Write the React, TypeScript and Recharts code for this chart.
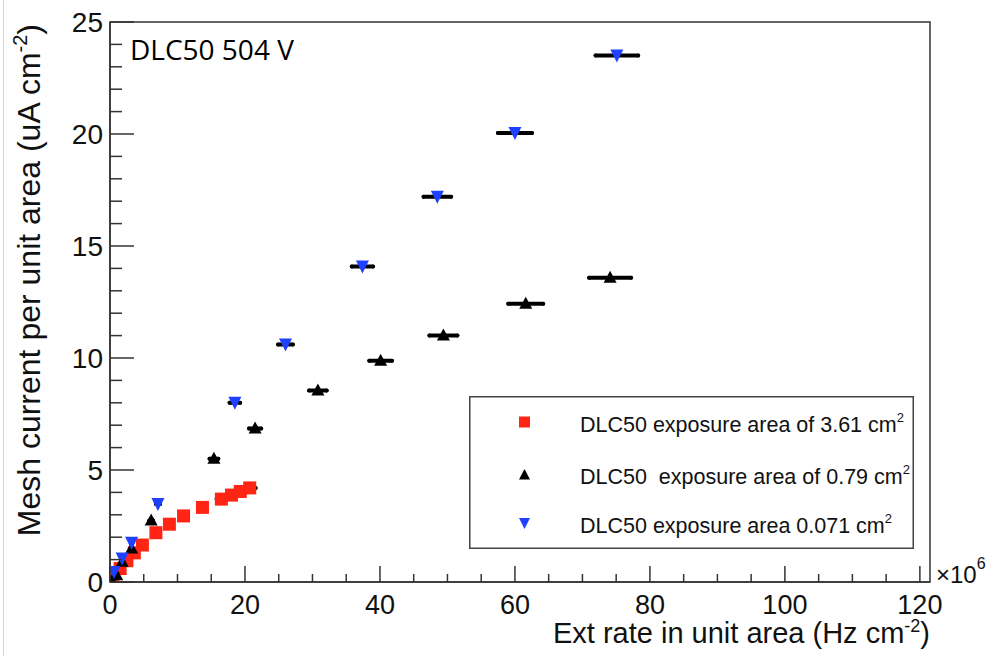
import React from "react";
import {
  ScatterChart,
  Scatter,
  XAxis,
  YAxis,
  ErrorBar,
  ReferenceArea,
  Legend,
} from "recharts";

const AXIS = "#333333";
const RED = "#ff2414";
const BLACK = "#000000";
const BLUE = "#2040ff";
const FONT = "'Liberation Sans', Arial, Helvetica, sans-serif";

// exposure area 3.61 cm2 (rate in 1e6 Hz/cm2, current in uA/cm2)
const redRate = [0.4, 1.5, 2.5, 3.6, 4.8, 6.8, 8.8, 10.9, 13.7, 16.5, 18.0, 19.3, 20.7];
const redCurrent = [0.15, 0.6, 0.95, 1.3, 1.65, 2.2, 2.58, 2.95, 3.33, 3.7, 3.88, 4.04, 4.2];
const redRateErr = [0.02, 0.06, 0.1, 0.15, 0.2, 0.29, 0.37, 0.46, 0.58, 0.7, 0.76, 0.81, 0.87];

// exposure area 0.79 cm2
const blackRate = [0.3, 1.0, 1.8, 3.2, 6.1, 15.4, 21.5, 30.8, 40.1, 49.4, 61.6, 74.1];
const blackCurrent = [0.05, 0.3, 0.9, 1.5, 2.75, 5.5, 6.85, 8.55, 9.88, 11.0, 12.42, 13.58];
const blackRateErr = [0.01, 0.04, 0.08, 0.13, 0.26, 0.65, 0.9, 1.3, 1.68, 2.07, 2.59, 3.11];

// exposure area 0.071 cm2
const blueRate = [0.6, 1.8, 3.2, 7.1, 18.5, 26.0, 37.4, 48.5, 60.0, 75.1];
const blueCurrent = [0.45, 1.05, 1.75, 3.48, 8.0, 10.6, 14.08, 17.2, 20.04, 23.5];
const blueRateErr = [0.03, 0.08, 0.13, 0.3, 0.78, 1.09, 1.57, 2.04, 2.52, 3.15];

const xTicks = [0, 5, 10, 15, 20, 25, 30, 35, 40, 45, 50, 55, 60, 65, 70, 75, 80, 85, 90, 95, 100, 105, 110, 115, 120];
const yTicks = [0, 1, 2, 3, 4, 5, 6, 7, 8, 9, 10, 11, 12, 13, 14, 15, 16, 17, 18, 19, 20, 21, 22, 23, 24, 25];

const legendLabels = [
  { text: "DLC50 exposure area of 3.61 cm", kind: "square" },
  { text: "DLC50  exposure area of 0.79 cm", kind: "up" },
  { text: "DLC50 exposure area 0.071 cm", kind: "down" },
];

const toRows = (xs: number[], ys: number[], es: number[]) =>
  xs.map((x, i) => ({ rate: x, current: ys[i], err: es[i] }));

const redRows = toRows(redRate, redCurrent, redRateErr);
const blackRows = toRows(blackRate, blackCurrent, blackRateErr);
const blueRows = toRows(blueRate, blueCurrent, blueRateErr);

const SquareMark = (p: any) => (
  <rect x={p.cx - 6.5} y={p.cy - 6.5} width={13} height={13} fill={RED} />
);
const UpMark = (p: any) => (
  <polygon
    points={`${p.cx},${p.cy - 7} ${p.cx - 6.5},${p.cy + 5} ${p.cx + 6.5},${p.cy + 5}`}
    fill={BLACK}
  />
);
const DownMark = (p: any) => (
  <polygon
    points={`${p.cx - 6.5},${p.cy - 6} ${p.cx + 6.5},${p.cy - 6} ${p.cx},${p.cy + 7}`}
    fill={BLUE}
  />
);

const XTick = (props: any) => {
  const { x, y, payload } = props;
  const v = payload.value;
  const major = v % 20 === 0;
  return (
    <g>
      <line x1={x} x2={x} y1={y} y2={y - (major ? 16 : 8)} stroke={AXIS} strokeWidth={1.5} />
      {major ? (
        <text x={x} y={y + 32} textAnchor="middle" fontSize={27} fontFamily={FONT} fill="#111">
          {v}
        </text>
      ) : null}
    </g>
  );
};

const YTick = (props: any) => {
  const { x, y, payload } = props;
  const v = payload.value;
  const major = v % 5 === 0;
  return (
    <g>
      <line x1={x} x2={x + (major ? 24 : 12)} y1={y} y2={y} stroke={AXIS} strokeWidth={1.5} />
      {major ? (
        <text x={x - 7} y={y + 10} textAnchor="end" fontSize={28} fontFamily={FONT} fill="#111">
          {v}
        </text>
      ) : null}
    </g>
  );
};

const XTitle = (props: any) => {
  const vb = props.viewBox;
  const right = vb.x + vb.width;
  return (
    <g fontFamily={FONT} fill="#111">
      <text x={right} y={vb.y + 61} textAnchor="end" fontSize={29}>
        Ext rate in unit area (Hz cm
        <tspan fontSize={18} dy={-11}>-2</tspan>
        <tspan dy={11}>)</tspan>
      </text>
      <text x={right + 6} y={vb.y + 1} fontSize={24}>
        ×10
        <tspan fontSize={16} dy={-14}>6</tspan>
      </text>
    </g>
  );
};

const YTitle = (props: any) => {
  const vb = props.viewBox;
  const bx = 40;
  const by = vb.y + 2;
  return (
    <text
      x={bx}
      y={by}
      transform={`rotate(-90 ${bx} ${by})`}
      textAnchor="end"
      fontSize={32}
      fontFamily={FONT}
      fill="#111"
    >
      Mesh current per unit area (uA cm
      <tspan fontSize={20} dy={-13}>-2</tspan>
      <tspan dy={13}>)</tspan>
    </text>
  );
};

const legendRowBase = [35.5, 88, 137];
const legendRowMark = [26, 79, 127];

const LegendBox = () => (
  <svg width={445} height={153} style={{ display: "block" }}>
    <rect x={0.75} y={0.75} width={443.5} height={151.5} fill="#fff" stroke="#444" strokeWidth={1.5} />
    {legendLabels.map((l, i) => {
      const cx = 55.5;
      const cy = legendRowMark[i];
      let mark;
      if (l.kind === "square") mark = <rect x={cx - 5.5} y={cy - 5.5} width={11} height={11} fill={RED} />;
      else if (l.kind === "up")
        mark = <polygon points={`${cx},${cy - 6} ${cx - 5.5},${cy + 4.5} ${cx + 5.5},${cy + 4.5}`} fill={BLACK} />;
      else
        mark = <polygon points={`${cx - 5.5},${cy - 5} ${cx + 5.5},${cy - 5} ${cx},${cy + 6}`} fill={BLUE} />;
      return (
        <g key={i}>
          {mark}
          <text
            x={111}
            y={legendRowBase[i]}
            fontSize={21.5}
            fontFamily={FONT}
            fill="#111"
            style={{ whiteSpace: "pre" }}
          >
            {l.text}
            <tspan fontSize={13} dy={-10}>2</tspan>
          </text>
        </g>
      );
    })}
  </svg>
);

export default function App() {
  return (
    <div style={{ position: "absolute", left: 0, top: 0, width: 992, height: 656, background: "#fff" }}>
      <div style={{ position: "absolute", left: 3, top: 0, width: 1, height: 656, background: "#d4d4d4" }} />
      <ScatterChart width={992} height={656} margin={{ top: 22, right: 62, bottom: 0, left: 0 }}>
        <XAxis
          type="number"
          dataKey="rate"
          domain={[0, 121.5]}
          ticks={xTicks}
          interval={0}
          tickSize={0}
          tickMargin={0}
          tick={<XTick />}
          tickLine={false}
          axisLine={{ stroke: AXIS, strokeWidth: 1.5 }}
          height={74}
          allowDataOverflow
          label={{ content: XTitle }}
        />
        <YAxis
          type="number"
          dataKey="current"
          domain={[0, 25]}
          ticks={yTicks}
          interval={0}
          tickSize={0}
          tickMargin={0}
          tick={<YTick />}
          tickLine={false}
          axisLine={{ stroke: AXIS, strokeWidth: 1.5 }}
          width={110}
          allowDataOverflow
          label={{ content: YTitle }}
        />
        <ReferenceArea x1={0} x2={121.5} y1={0} y2={25} fill="none" stroke={AXIS} strokeWidth={1.5} />
        <Legend
          layout="vertical"
          align="center"
          verticalAlign="middle"
          content={LegendBox}
          wrapperStyle={{ position: "absolute", left: 469, top: 396, width: 445, height: 153 }}
        />
        <Scatter data={redRows} shape={SquareMark} isAnimationActive={false}>
          <ErrorBar dataKey="err" direction="x" width={0} stroke={BLACK} strokeWidth={4} strokeLinecap="round" isAnimationActive={false} />
        </Scatter>
        <Scatter data={blackRows} shape={UpMark} isAnimationActive={false}>
          <ErrorBar dataKey="err" direction="x" width={0} stroke={BLACK} strokeWidth={4} strokeLinecap="round" isAnimationActive={false} />
        </Scatter>
        <Scatter data={blueRows} shape={DownMark} isAnimationActive={false}>
          <ErrorBar dataKey="err" direction="x" width={0} stroke={BLACK} strokeWidth={4} strokeLinecap="round" isAnimationActive={false} />
        </Scatter>
        <text x={130} y={60} fontSize={28} fontFamily="'Open Sans', sans-serif" fill="#000">
          DLC50 504 V
        </text>
      </ScatterChart>
    </div>
  );
}
